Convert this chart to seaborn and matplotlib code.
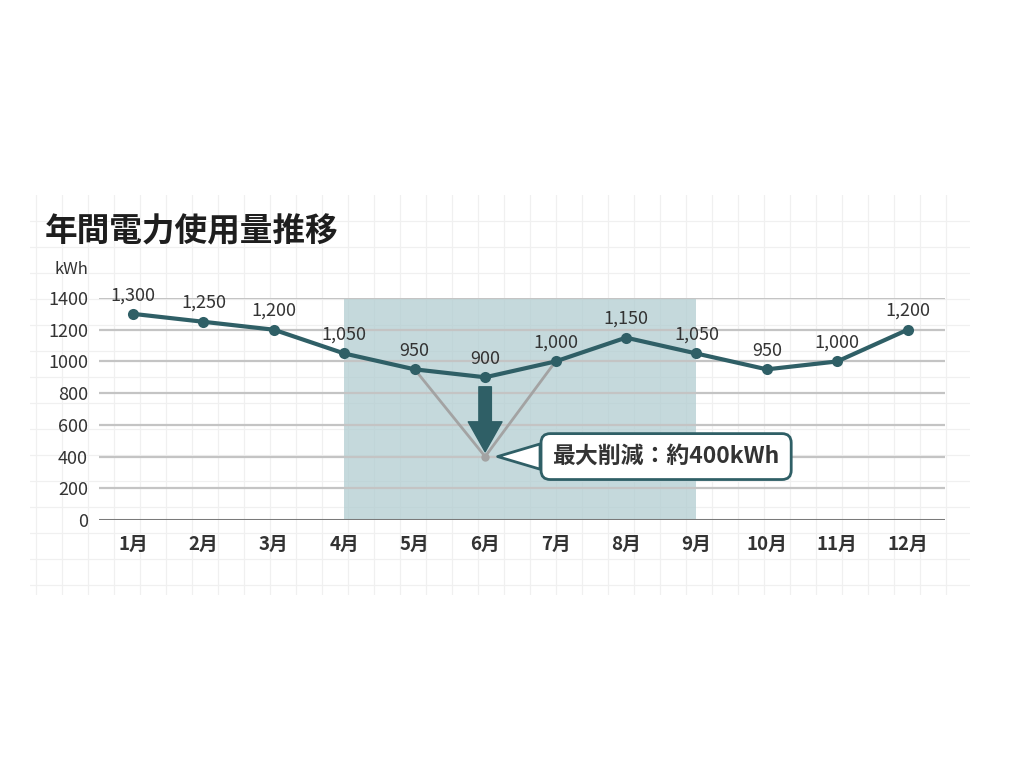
import numpy as np
import pandas as pd
import seaborn as sns
import matplotlib.pyplot as plt

# data
months = ['1月', '2月', '3月', '4月', '5月', '6月', '7月', '8月', '9月', '10月', '11月', '12月']
usage = [1300, 1250, 1200, 1050, 950, 900, 1000, 1150, 1050, 950, 1000, 1200]
y_ticks = [0, 200, 400, 600, 800, 1000, 1200, 1400]
span_months = ['4月', '9月']
dip_months = ['5月', '6月', '7月']
dip_values = [950, 400, 1000]
arrow_from, arrow_to = 840, 430
note_text = '最大削減：約400kWh'
title = '年間電力使用量推移'
unit = 'kWh'

teal = '#2f5f66'
shade = '#b2cdd1'
text_col = '#333333'

sns.set_theme(style='white')
plt.rcParams['font.family'] = ['Noto Sans CJK JP', 'DejaVu Sans']

df = pd.DataFrame({'month': months, 'usage': usage})
df['x'] = np.arange(len(months))
pos = dict(zip(months, df['x']))

fig = plt.figure(figsize=(10.24, 7.68), dpi=100)
fig.patch.set_facecolor('white')

# faint graph paper behind the chart
bg = fig.add_axes([30 / 1024, 173 / 768, 940 / 1024, 400 / 768], zorder=0)
bg.set_xlim(0, 940)
bg.set_ylim(0, 400)
bg.set_xticks(np.arange(6, 940, 26))
bg.set_yticks(np.arange(10, 400, 26))
bg.grid(True, color='#f0f0f0', lw=0.9)
bg.tick_params(length=0, labelbottom=False, labelleft=False)
for s in bg.spines.values():
    s.set_visible(False)
bg.set_facecolor('white')

ax = fig.add_axes([99 / 1024, 248 / 768, 846 / 1024, 222 / 768], zorder=1)
ax.patch.set_alpha(0)
ax.set_xlim(-0.483, 11.53)
ax.set_ylim(0, 1400)

ax.axvspan(pos[span_months[0]], pos[span_months[1]], color=shade, alpha=0.75, lw=0, zorder=0)
for v in y_ticks[1:]:
    ax.axhline(v, color='#c4c4c4', lw=1.6, zorder=1)
ax.axhline(0, color='#7a7a7a', lw=2.2, zorder=2)

# V-shaped reduction guide
ax.plot([pos[m] for m in dip_months], dip_values, color='#a3a3a3', lw=2, zorder=3)
ax.plot(pos[dip_months[1]], dip_values[1], 'o', color='#a3a3a3', ms=5, zorder=3)

sns.lineplot(data=df, x='x', y='usage', ax=ax, color=teal, lw=3, marker='o',
             markersize=8, markeredgewidth=0, zorder=5)

for xi, v in zip(df['x'], df['usage']):
    ax.annotate(f'{v:,}', (xi, v), xytext=(0, 7), textcoords='offset points',
                ha='center', va='bottom', fontsize=13, color=text_col,
                annotation_clip=False, zorder=6)

ax.annotate('', xy=(pos[dip_months[1]], arrow_to), xytext=(pos[dip_months[1]], arrow_from),
            arrowprops=dict(arrowstyle='simple,head_length=1.2,head_width=1.35,tail_width=0.5',
                            color=teal, shrinkA=0, shrinkB=0, mutation_scale=18), zorder=6)

ax.annotate(note_text, xy=(pos[dip_months[1]], dip_values[1]), xytext=(7.57, 400),
            ha='center', va='center', fontsize=16.5, fontweight='bold', color=text_col,
            bbox=dict(boxstyle='round,pad=0.5,rounding_size=0.4', fc='white', ec=teal, lw=2),
            arrowprops=dict(arrowstyle='wedge,tail_width=1.1,shrink_factor=0.5', fc='white',
                            ec=teal, lw=2, shrinkA=0, shrinkB=9), zorder=7)

ax.set_xticks(df['x'])
ax.set_xticklabels(months, fontsize=13.5, fontweight='bold', color=text_col)
ax.set_yticks(y_ticks)
ax.set_yticklabels([str(v) for v in y_ticks], fontsize=13, color=text_col)
ax.tick_params(axis='x', length=0, pad=11)
ax.tick_params(axis='y', length=0, pad=8)
ax.set_xlabel('')
ax.set_ylabel('')
for s in ax.spines.values():
    s.set_visible(False)

fig.text(45 / 1024, 1 - 232 / 768, title, fontsize=23.5, fontweight='bold', color='#1e1e1e',
         ha='left', va='center')
fig.text(88 / 1024, 1 - 270 / 768, unit, fontsize=12, color=text_col, ha='right', va='center')

fig.savefig('out.png', dpi=100, facecolor='white')
